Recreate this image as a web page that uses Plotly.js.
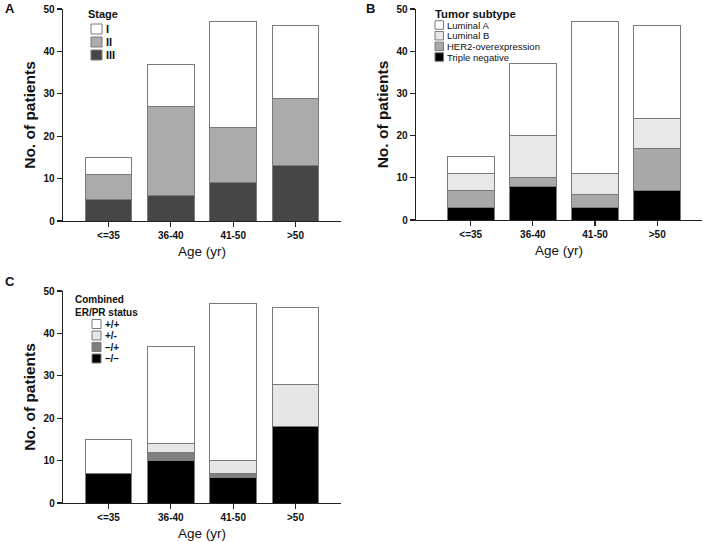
<!DOCTYPE html>
<html>
<head>
<meta charset="utf-8">
<script src="https://cdn.plot.ly/plotly-3.0.1.min.js"></script>
<style>html,body{margin:0;padding:0;background:#fff;}#chart{width:703px;height:542px;}</style>
</head>
<body>
<div id="chart"></div>
<script>
// ---------- DATA ----------
const ageGroups = ['<=35', '36-40', '41-50', '>50'];

// Panel A: stage (stack order bottom -> top)
const stageNames = ['III', 'II', 'I'];
const stageIII = [5, 6, 9, 13];
const stageII = [6, 21, 13, 16];
const stageI = [4, 10, 25, 17];

// Panel B: tumor subtype (bottom -> top)
const subtypeNames = ['Triple negative', 'HER2-overexpression', 'Luminal B', 'Luminal A'];
const tripleNegative = [3, 8, 3, 7];
const her2 = [4, 2, 3, 10];
const luminalB = [4, 10, 5, 7];
const luminalA = [4, 17, 36, 22];

// Panel C: combined ER/PR status (bottom -> top)
const erprNames = ['\u2013/\u2013', '\u2013/+', '+/-', '+/+'];
const erprNegNeg = [7, 10, 6, 18];
const erprNegPos = [0, 2, 1, 0];
const erprPosNeg = [0, 2, 3, 10];
const erprPosPos = [8, 23, 37, 18];

// ---------- STYLE ----------
const W = 703, H = 542;
const FONT = 'Arial, "Liberation Sans", sans-serif';
const colorsA = ['#464646', '#ababab', '#ffffff'];
const colorsB = ['#000000', '#a9a9a9', '#e8e8e8', '#ffffff'];
const colorsC = ['#000000', '#7f7f7f', '#e6e6e6', '#ffffff'];
const outline = '#7a7a7a';

const px = x => x / W;
const py = y => 1 - y / H;

function makeTraces(names, series, colors, xa, ya) {
  return series.map((vals, i) => ({
    type: 'bar', x: ageGroups, y: vals, name: names[i],
    xaxis: xa, yaxis: ya, showlegend: false,
    marker: {color: colors[i], line: {color: outline, width: 1}},
    hoverinfo: 'x+y+name'
  }));
}

const data = [].concat(
  makeTraces(stageNames, [stageIII, stageII, stageI], colorsA, 'x', 'y'),
  makeTraces(subtypeNames, [tripleNegative, her2, luminalB, luminalA], colorsB, 'x2', 'y2'),
  makeTraces(erprNames, [erprNegNeg, erprNegPos, erprPosNeg, erprPosPos], colorsC, 'x3', 'y3')
);

function xAxis(domain, range, anchor) {
  return {
    domain: domain, range: range, anchor: anchor, type: 'category',
    showline: true, linecolor: '#222', linewidth: 1.3, mirror: false,
    ticks: 'outside', ticklen: 5, tickwidth: 1.2, tickcolor: '#222',
    showgrid: false, zeroline: false,
    tickfont: {family: FONT, size: 10, color: '#111', weight: 'bold'},
    title: {text: 'Age (yr)', font: {family: FONT, size: 13.5, color: '#111'}, standoff: 6},
    fixedrange: true
  };
}
function yAxis(domain, anchor) {
  return {
    domain: domain, range: [0, 50], anchor: anchor, dtick: 10,
    showline: true, linecolor: '#222', linewidth: 1.3,
    ticks: 'outside', ticklen: 5, tickwidth: 1.2, tickcolor: '#222',
    showgrid: false, zeroline: false,
    tickfont: {family: FONT, size: 10, color: '#111', weight: 'bold'},
    title: {text: 'No. of patients', font: {family: FONT, size: 15.5, color: '#111', weight: 'bold'}, standoff: 4},
    fixedrange: true
  };
}

const shapes = [];
const annotations = [];

function label(text, x, y, size, bold, anchor) {
  annotations.push({
    xref: 'paper', yref: 'paper', x: px(x), y: py(y), text: text,
    showarrow: false, xanchor: anchor || 'left', yanchor: 'middle', align: 'left',
    font: {family: FONT, size: size, color: '#111', weight: bold ? 'bold' : 'normal'}
  });
}
function swatch(x0, x1, y0, y1, color) {
  shapes.push({
    type: 'rect', xref: 'paper', yref: 'paper',
    x0: px(x0), x1: px(x1), y0: py(y1), y1: py(y0),
    fillcolor: color, line: {color: outline, width: 1}
  });
}
// legend builder: names/colors listed top -> bottom
function legend(title, titleX, titleY, titleSize, sx0, sx1, rows, rowH, names, colors, textX, textSize, bold) {
  label(title, titleX, titleY, titleSize, true);
  rows.forEach((cy, i) => {
    swatch(sx0, sx1, cy - rowH / 2, cy + rowH / 2, colors[i]);
    label(names[i], textX, cy, textSize, bold);
  });
}

legend('Stage', 86, 14, 11, 91, 102, [29, 42, 55], 10,
  stageNames.slice().reverse(), colorsA.slice().reverse(), 104, 11, true);
legend('Tumor subtype', 433, 14, 11.3, 435, 443.5, [25, 35.7, 46.4, 57], 8.5,
  subtypeNames.slice().reverse(), colorsB.slice().reverse(), 445, 9.5, false);
legend('Combined<br>ER/PR status', 73, 306.5, 10, 92, 101, [324, 335.5, 347, 358.5], 9,
  erprNames.slice().reverse(), colorsC.slice().reverse(), 103, 10, true);

// panel letters
label('A', 3, 8, 13, true);
label('B', 364, 8, 13, true);
label('C', 3, 282, 13, true);

const layout = {
  width: W, height: H,
  margin: {l: 0, r: 0, t: 0, b: 0},
  paper_bgcolor: '#fff', plot_bgcolor: '#fff',
  barmode: 'stack', bargap: 0.25,
  showlegend: false,
  font: {family: FONT, color: '#111'},
  xaxis: xAxis([px(63), px(341)], [-0.73, 3.73], 'y'),
  yaxis: yAxis([py(221), py(9)], 'x'),
  xaxis2: xAxis([px(416), px(702)], [-0.88, 3.72], 'y2'),
  yaxis2: yAxis([py(220), py(9)], 'x2'),
  xaxis3: xAxis([px(63), px(341)], [-0.73, 3.73], 'y3'),
  yaxis3: yAxis([py(503), py(291)], 'x3'),
  shapes: shapes,
  annotations: annotations
};

Plotly.newPlot('chart', data, layout, {displayModeBar: false, staticPlot: true});
</script>
</body>
</html>
